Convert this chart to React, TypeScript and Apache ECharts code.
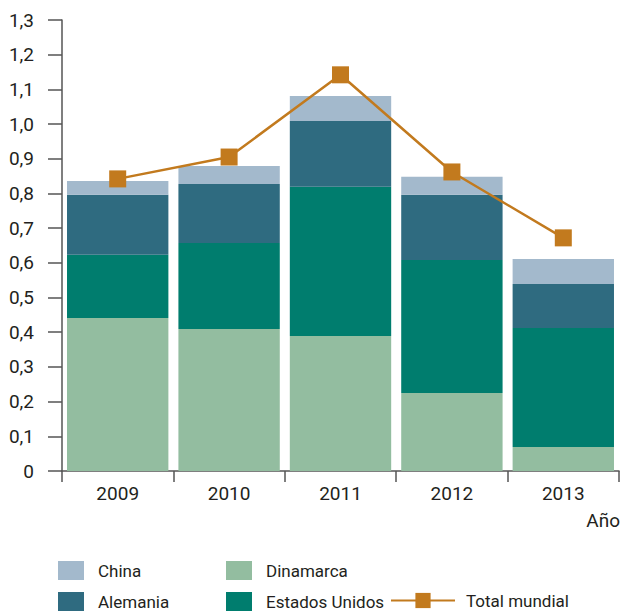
import React, { useEffect, useRef } from "react";
import * as echarts from "echarts";

const years = ["2009", "2010", "2011", "2012", "2013"];
const dinamarca = [0.441, 0.409, 0.389, 0.225, 0.069];
const estadosUnidos = [0.182, 0.248, 0.43, 0.383, 0.343];
const alemania = [0.173, 0.17, 0.19, 0.188, 0.127];
const china = [0.04, 0.052, 0.072, 0.052, 0.072];
const totalMundial = [0.842, 0.905, 1.142, 0.862, 0.672];

const FONT = "Roboto, sans-serif";
const TXT = "#231f20";

export default function App() {
  const ref = useRef<HTMLDivElement>(null);
  useEffect(() => {
    const chart = echarts.init(ref.current!, null, { renderer: "svg" });
    const legendText = { fontFamily: FONT, fontSize: 17, color: TXT, padding: [0, 0, 0, 9] };
    chart.setOption({
      animation: false,
      textStyle: { fontFamily: FONT },
      grid: { left: 62, right: 4, top: 20, bottom: 142 },
      legend: [
        {
          data: ["China", "Alemania"],
          orient: "vertical",
          left: 58,
          top: 561,
          itemWidth: 26,
          itemHeight: 19,
          itemGap: 12,
          textStyle: legendText,
          icon: "rect",
          padding: 0,
          selectedMode: false,
        },
        {
          data: ["Dinamarca", "Estados Unidos"],
          orient: "vertical",
          left: 226,
          top: 561,
          itemWidth: 26,
          itemHeight: 19,
          itemGap: 12,
          textStyle: legendText,
          icon: "rect",
          padding: 0,
          selectedMode: false,
        },
        {
          data: ["Total mundial"],
          left: 390,
          top: 592,
          itemWidth: 64,
          itemHeight: 19,
          textStyle: { ...legendText, padding: [0, 0, 0, 6] },
          padding: 0,
          selectedMode: false,
        },
      ],
      xAxis: {
        type: "category",
        data: years,
        axisLine: { lineStyle: { color: "#555", width: 1.5 } },
        axisTick: { show: true, length: 11, lineStyle: { color: "#555", width: 1.5 } },
        axisLabel: { color: TXT, fontSize: 19, margin: 13, fontFamily: FONT },
      },
      yAxis: {
        type: "value",
        min: 0,
        max: 1.3,
        interval: 0.1,
        splitLine: { show: false },
        axisLine: { show: true, lineStyle: { color: "#555", width: 1.5 } },
        axisTick: { show: true, length: 14, lineStyle: { color: "#555", width: 1.5 } },
        axisLabel: {
          color: TXT,
          fontSize: 19,
          margin: 28,
          fontFamily: FONT,
          formatter: (v: number) => (v === 0 ? "0" : v.toFixed(1).replace(".", ",")),
        },
      },
      graphic: [
        {
          type: "text",
          right: 3,
          top: 511,
          style: { text: "Año", fill: TXT, fontSize: 19, fontFamily: FONT },
        },
      ],
      series: [
        {
          name: "Dinamarca",
          type: "bar",
          stack: "a",
          data: dinamarca,
          barCategoryGap: "9%",
          itemStyle: { color: "#93bda0" },
        },
        {
          name: "Estados Unidos",
          type: "bar",
          stack: "a",
          data: estadosUnidos,
          itemStyle: { color: "#007d6e" },
        },
        {
          name: "Alemania",
          type: "bar",
          stack: "a",
          data: alemania,
          itemStyle: { color: "#2f6b80" },
        },
        {
          name: "China",
          type: "bar",
          stack: "a",
          data: china,
          itemStyle: { color: "#a3b9cc" },
        },
        {
          name: "Total mundial",
          type: "line",
          data: totalMundial,
          symbol: "rect",
          symbolSize: 17,
          lineStyle: { color: "#c27a1e", width: 2.5 },
          itemStyle: { color: "#c27a1e" },
        },
      ],
    });
    return () => chart.dispose();
  }, []);
  return <div ref={ref} style={{ width: 623, height: 613, position: "absolute", left: 0, top: 0 }} />;
}
